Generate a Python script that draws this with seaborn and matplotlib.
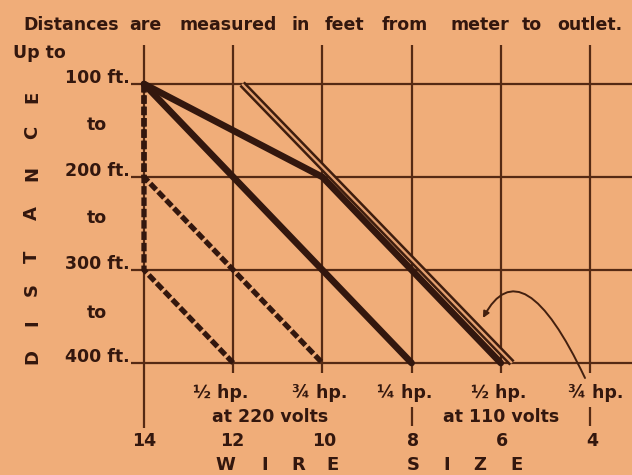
import matplotlib
matplotlib.use("Agg")
import matplotlib.pyplot as plt
import pandas as pd
import seaborn as sns
from matplotlib.patches import FancyArrowPatch
from matplotlib.path import Path

# ---- chart data -------------------------------------------------------
wire_sizes = [14, 12, 10, 8, 6, 4]
distances = [100, 200, 300, 400]
distance_labels = ["100 ft.", "200 ft.", "300 ft.", "400 ft."]

# wire size needed vs. run length, one path per motor load
half_hp_220_size = [14, 14, 12]
half_hp_220_dist = [100, 300, 400]
three_q_hp_220_size = [14, 14, 10]
three_q_hp_220_dist = [100, 200, 400]
quarter_hp_110_size = [14, 8]
quarter_hp_110_dist = [100, 400]
half_hp_110_size = [14, 10, 6]
half_hp_110_dist = [100, 200, 400]
three_q_hp_110_size = [11.8, 5.75]
three_q_hp_110_dist = [100, 400]

load_labels = ["½ hp.", "¾ hp.", "¼ hp.", "½ hp.", "¾ hp."]
title_words = ["Distances", "are", "measured", "in", "feet", "from",
               "meter", "to", "outlet."]

# ---- style ------------------------------------------------------------
PAPER = "#f0ad79"
INK = "#33170e"
RULE = "#552a14"

sns.set_theme(style="white")
plt.rcParams["font.family"] = ["DejaVu Sans"]
plt.rcParams["font.weight"] = "bold"

W, H = 632, 475
fig = plt.figure(figsize=(W / 100, H / 100), dpi=100, facecolor=PAPER)
ax = fig.add_axes([0, 0, 1, 1], facecolor=PAPER)
ax.set_axis_off()

# 44.6 px per gauge step, 0.93 px per foot; gauge 14 sits at x=144, 100 ft at y=84
PX_X, PX_Y = 44.6, 0.93
ax.set_xlim(14 + 144 / PX_X, 14 - (W - 144) / PX_X)
ax.set_ylim(100 + (H - 84) / PX_Y, 100 - 84 / PX_Y)


def gx(px):
    return 14 - (px - 144) / PX_X


def gy(py):
    return 100 + (py - 84) / PX_Y


# ---- grid -------------------------------------------------------------
ax.hlines(distances, gx(131), gx(W), color=RULE, lw=1.6, zorder=1)
ax.vlines(wire_sizes[1:], gy(45), gy(373), color=RULE, lw=1.6, zorder=1)
ax.vlines(wire_sizes[0], gy(45), gy(428), color=RULE, lw=1.6, zorder=1)
# brackets around "at 110 volts"
ax.vlines([8, 4], gy(407), gy(426), color=RULE, lw=1.6, zorder=1)

# ---- run lines ----------------------------------------------------------
def run(sizes, dists, **kw):
    df = pd.DataFrame({"size": sizes, "dist": dists})
    sns.lineplot(data=df, x="size", y="dist", sort=False, estimator=None,
                 ax=ax, legend=False, **kw)


dash = (0, (1.6, 0.55))
run(three_q_hp_220_size, three_q_hp_220_dist, color=INK, lw=3.8,
    linestyle=dash, zorder=3)
run(half_hp_220_size, half_hp_220_dist, color=INK, lw=3.8,
    linestyle=dash, zorder=3)
run(quarter_hp_110_size, quarter_hp_110_dist, color=INK, lw=4.8,
    solid_capstyle="round", zorder=4)
run(half_hp_110_size, half_hp_110_dist, color=INK, lw=4.8,
    solid_capstyle="round", solid_joinstyle="round", zorder=4)
# outlined double rule
run(three_q_hp_110_size, three_q_hp_110_dist, color="#3e1d0e", lw=5.2,
    solid_capstyle="butt", zorder=5)
run(three_q_hp_110_size, three_q_hp_110_dist, color="#e4a06f", lw=1.6,
    solid_capstyle="butt", zorder=6)

# curved pointer from the 3/4 hp (110 V) label to the double rule
pointer = Path([(gx(585), gy(378)), (gx(522), gy(245)), (gx(483), gy(318))],
               [Path.MOVETO, Path.CURVE3, Path.CURVE3])
ax.add_patch(FancyArrowPatch(path=pointer, arrowstyle="-|>",
                             mutation_scale=9, lw=1.4, color="#43200f",
                             zorder=7))

# ---- text ---------------------------------------------------------------
def put(px, py, s, size=12, **kw):
    fig.text(px / W, 1 - py / H, s, fontsize=size, color=INK,
             fontweight="bold", **kw)


# title words are set with wide, even word spacing across the full width
for word, cx in zip(title_words, [71, 145, 228, 301, 344, 405, 480, 532, 590]):
    put(cx, 25, word, size=12.5, ha="center", va="center")
put(13, 53, "Up to", size=12.5, ha="left", va="center")

for d, lab in zip(distances, distance_labels):
    put(130, 84 + (d - 100) * PX_Y - 1, lab, size=12.5, ha="right",
        va="baseline")
for py in [125, 218, 313]:
    put(97, py, "to", size=12.5, ha="center", va="center")

for ch, py in zip("DISTANCE", [357, 323, 290, 257, 213, 173, 132, 97]):
    put(32, py, ch, size=13, ha="center", va="center", rotation=90)

for lab, cx in zip(load_labels, [221, 320, 405, 499, 596]):
    put(cx, 393, lab, size=12.5, ha="center", va="center")
put(270, 417, "at 220 volts", size=12.5, ha="center", va="center")
put(501, 417, "at 110 volts", size=12.5, ha="center", va="center")

for s, cx in zip(wire_sizes, [144, 232, 324, 413, 502, 592]):
    put(cx, 441, str(s), size=12.5, ha="center", va="center")

for ch, cx in zip("WIRESIZE", [225, 265, 298, 333, 413, 447, 480, 517]):
    put(cx, 465, ch, size=13, ha="center", va="center")

fig.savefig("out.png", dpi=100, facecolor=PAPER)
